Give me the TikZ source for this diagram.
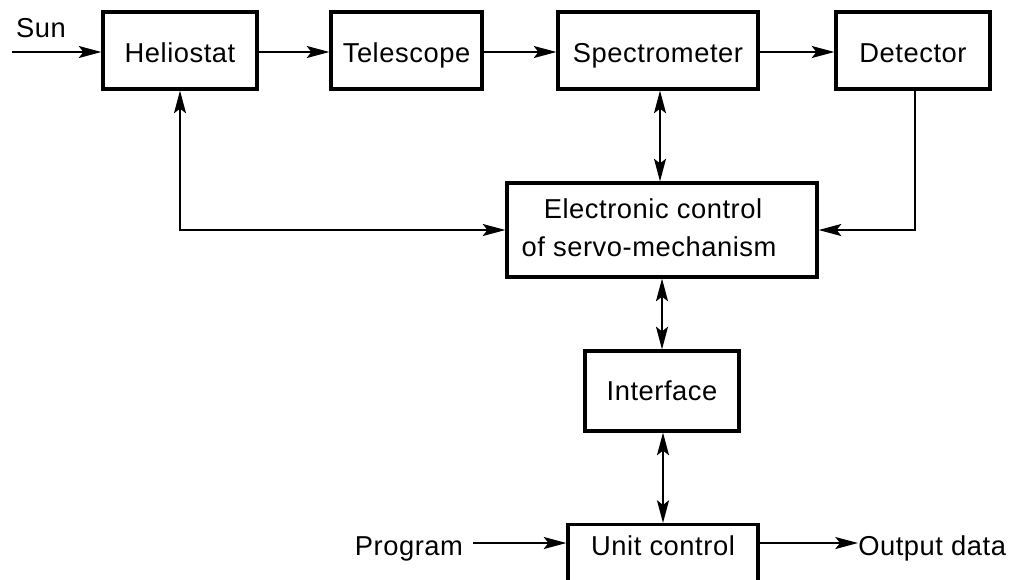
\documentclass[tikz,border=0pt]{standalone}
\usepackage{fontspec}
\setmainfont[LetterSpace=2]{Liberation Sans}
\usetikzlibrary{arrows.meta}
\begin{document}
\begin{tikzpicture}[x=0.75pt,y=-0.75pt,
  blk/.style={draw,line width=2.4pt,rectangle,inner sep=0pt,font=\fontsize{20.5}{25}\selectfont,align=center},
  top/.style={text height=17.6pt,text depth=0.35pt},
  lbl/.style={inner sep=0pt,font=\fontsize{20.5}{24}\selectfont},
  conn/.style={line width=1.5pt,-{Stealth[length=17pt,width=9pt,inset=3.5pt]}},
  bconn/.style={line width=1.5pt,{Stealth[length=17pt,width=9pt,inset=3.5pt]}-{Stealth[length=17pt,width=9pt,inset=3.5pt]}}]
\clip (0,0) rectangle (1020,579);
\fill[white] (0,0) rectangle (1020,579);
% top row
\node[blk,top,minimum width=115.5pt,minimum height=57.75pt] (helio) at (180,50.5) {Heliostat};
\node[blk,top,minimum width=113.25pt,minimum height=57.75pt] (tele) at (406.5,50.5) {Telescope};
\node[blk,top,minimum width=150pt,minimum height=57.75pt] (spec) at (658,50.5) {Spectrometer};
\node[blk,top,minimum width=115.5pt,minimum height=57.75pt] (det) at (913,50.5) {Detector};
% middle
\node[blk,minimum width=232.5pt,minimum height=70.5pt] (elec) at (662,230) {};
\node[lbl,anchor=base] (elec1) at (653,218) {Electronic control};
\node[lbl,anchor=base] (elec2) at (649,256) {of servo-mechanism};
\node[blk,text height=15pt,text depth=0.4pt,minimum width=115.5pt,minimum height=60pt] (intf) at (662,391) {Interface};
% bottom
\node[blk,anchor=north,minimum width=142.5pt,minimum height=75pt] (unit) at (663,523) {};
\node[lbl,anchor=base] (unittxt) at (663,555) {Unit control};
\node[lbl,anchor=base] (sun) at (41,37) {Sun};
\coordinate (sunstart) at (12,52);
\node[lbl,anchor=base] (prog) at (409,555) {Program};
\node[lbl,anchor=base west] (out) at (858,555) {Output data};
\coordinate (progstart) at (473,543);
% connectors
\draw[conn] (sunstart) -- (sunstart -| helio.west);
\draw[conn] (helio.east |- 0,52) -- (tele.west |- 0,52);
\draw[conn] (tele.east |- 0,52) -- (spec.west |- 0,52);
\draw[conn] (spec.east |- 0,52) -- (det.west |- 0,52);
\draw[bconn] (spec.south -| 660,0) -- (elec.north -| 660,0);
\draw[bconn] (elec.south) -- (intf.north);
\draw[bconn] (intf.south -| 663,0) -- (unit.north);
\draw[bconn] (helio.south) |- (elec.west);
\draw[conn] (det.south -| 915,0) |- (elec.east);
\draw[conn] (progstart) -- (unit.west |- progstart);
\draw[conn] (unit.east |- progstart) -- (out.west |- progstart);
\end{tikzpicture}
\end{document}
